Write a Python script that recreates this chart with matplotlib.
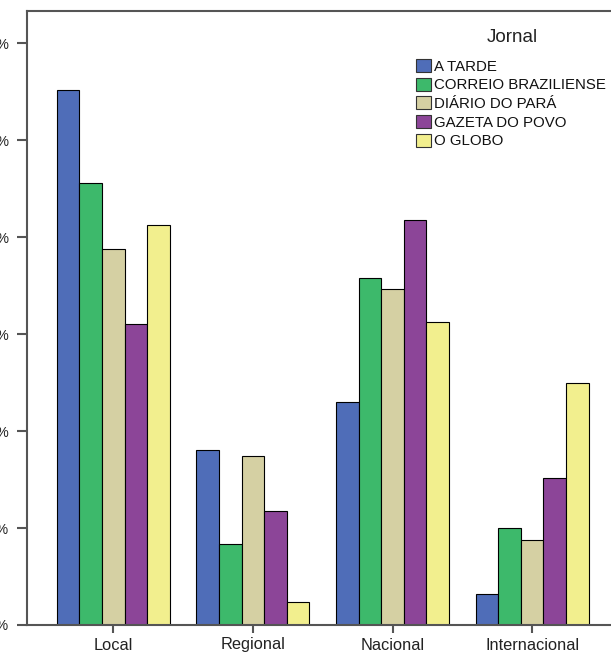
import matplotlib
matplotlib.use("Agg")
import matplotlib.pyplot as plt
import numpy as np
from matplotlib.patches import Patch

plt.rcParams['font.family'] = ['Liberation Sans', 'DejaVu Sans']

categories = ["Local", "Regional", "Nacional", "Internacional"]
series_names = ["A TARDE", "CORREIO BRAZILIENSE", "DIÁRIO DO PARÁ", "GAZETA DO POVO", "O GLOBO"]
a_tarde = [27.6, 9.0, 11.5, 1.6]
correio = [22.8, 4.2, 17.9, 5.0]
diario = [19.4, 8.7, 17.3, 4.4]
gazeta = [15.5, 5.9, 20.9, 7.6]
o_globo = [20.6, 1.2, 15.6, 12.5]
y_ticks = [0, 5, 10, 15, 20, 25, 30]
y_tick_labels = ["0%", "5%", "10%", "15%", "20%", "25%", "30%"]

colors = ["#4F6DB8", "#3DB96B", "#D5D0A3", "#8C4598", "#F2EF8E"]
values = [a_tarde, correio, diario, gazeta, o_globo]

fig = plt.figure(figsize=(6.11, 6.54), dpi=100)
ax = fig.add_axes([27/611, 29/654, 584/611, 614/654])

x = np.arange(len(categories))
w = 0.162
for i, (vals, c) in enumerate(zip(values, colors)):
    ax.bar(x + (i - 2) * w, vals, width=w, color=c, edgecolor="black", linewidth=0.8, zorder=2)

ax.set_xlim(-0.618, 3.565)
ax.set_ylim(0, 31.65)
ax.set_xticks(x)
ax.set_xticklabels(categories, fontsize=11.8, color="#222222")
ax.set_yticks(y_ticks)
ax.set_yticklabels(y_tick_labels, fontsize=10, color="#222222")
ax.tick_params(axis='y', length=7, width=1.5, color="#555555", pad=6)
ax.tick_params(axis='x', length=6, width=1.5, color="#555555", pad=3)
for s in ["left", "bottom", "top"]:
    ax.spines[s].set_color("#555555")
    ax.spines[s].set_linewidth(1.5)
ax.spines["right"].set_visible(False)

handles = [Patch(facecolor=c, edgecolor="#333333", linewidth=0.8) for c in colors]
leg = ax.legend(handles, series_names, loc="upper left",
                bbox_to_anchor=(416/611, 1 - 59/654), bbox_transform=fig.transFigure,
                frameon=False, fontsize=10.8,
                handlelength=1.0, handleheight=0.95, handletextpad=0.2,
                labelspacing=0.27, borderaxespad=0, borderpad=0)
for t in leg.get_texts():
    t.set_color("#111111")
fig.text(512/611, 1 - 38/654, "Jornal", fontsize=13.5, color="#222222",
         ha="center", va="center")

fig.savefig("out.png", dpi=100)
